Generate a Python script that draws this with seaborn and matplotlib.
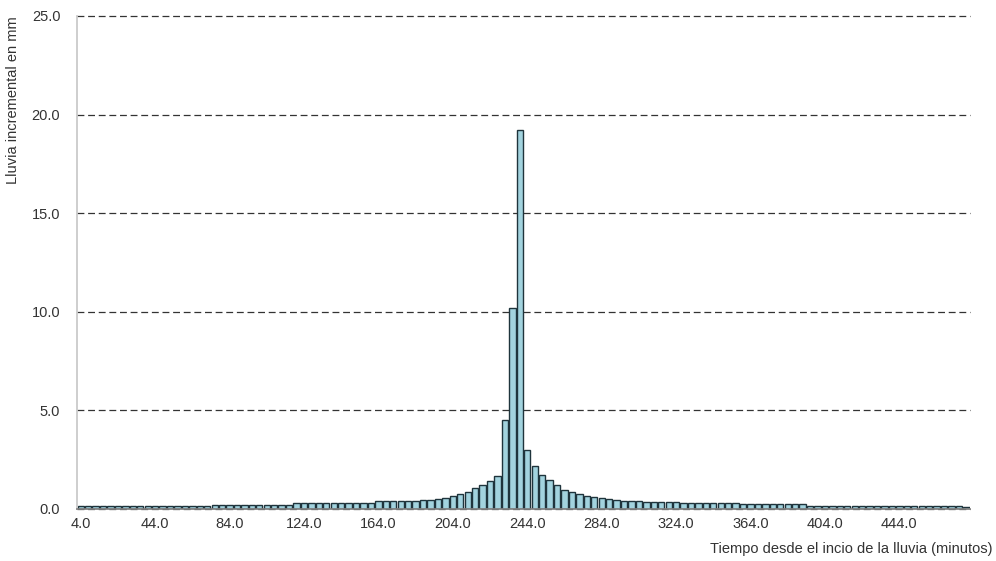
import numpy as np
import pandas as pd
import matplotlib
matplotlib.use("Agg")
import matplotlib.pyplot as plt
import seaborn as sns
from matplotlib.ticker import FormatStrFormatter

# time step of 4 min, from 4 to 480 min (120 bars)
minutos = np.arange(4, 484, 4)

# incremental rain (mm)
lluvia = [
    0.13, 0.13, 0.13, 0.13, 0.13, 0.13, 0.13, 0.13, 0.13, 0.13,
    0.13, 0.13, 0.13, 0.13, 0.13, 0.13, 0.13, 0.13, 0.20, 0.20,
    0.20, 0.20, 0.20, 0.20, 0.20, 0.20, 0.20, 0.20, 0.20, 0.30,
    0.30, 0.30, 0.30, 0.30, 0.30, 0.30, 0.30, 0.30, 0.30, 0.30,
    0.40, 0.40, 0.40, 0.40, 0.40, 0.42, 0.45, 0.48, 0.50, 0.54,
    0.66, 0.76, 0.88, 1.05, 1.22, 1.42, 1.69, 4.50, 10.20, 19.20,
    3.00, 2.18, 1.73, 1.47, 1.22, 0.96, 0.84, 0.75, 0.68, 0.60,
    0.54, 0.50, 0.46, 0.43, 0.41, 0.39, 0.37, 0.36, 0.35, 0.34,
    0.33, 0.30, 0.30, 0.30, 0.30, 0.30, 0.30, 0.30, 0.30, 0.23,
    0.23, 0.23, 0.23, 0.23, 0.23, 0.23, 0.23, 0.23, 0.16, 0.16,
    0.16, 0.16, 0.16, 0.16, 0.16, 0.16, 0.16, 0.16, 0.16, 0.16,
    0.16, 0.16, 0.16, 0.16, 0.16, 0.16, 0.16, 0.16, 0.16, 0.10,
]

etiquetas_x = ["4.0", "44.0", "84.0", "124.0", "164.0", "204.0",
               "244.0", "284.0", "324.0", "364.0", "404.0", "444.0"]
ticks_y = [0, 5, 10, 15, 20, 25]

df = pd.DataFrame({"minuto": minutos, "lluvia": lluvia})

sns.set_theme(style="white")
plt.rcParams["font.family"] = ["Liberation Sans", "DejaVu Sans"]

fig, ax = plt.subplots(figsize=(9.96, 5.61), dpi=100)
fig.subplots_adjust(left=0.0773, right=0.974, bottom=0.0927, top=0.9715)

sns.barplot(data=df, x="minuto", y="lluvia", color="#a2d3de",
            edgecolor="#1f343c", linewidth=1.0, width=0.85,
            saturation=1, errorbar=None, ax=ax)

ax.set_xlim(-0.5, len(minutos) - 0.5)
ax.set_ylim(0, 25)
ax.set_xticks(range(0, len(minutos), 10))
ax.set_xticklabels(etiquetas_x)
ax.set_yticks(ticks_y)
ax.yaxis.set_major_formatter(FormatStrFormatter("%.1f"))

# dashed horizontal grid
ax.set_axisbelow(True)
ax.yaxis.grid(True, color="#333333", linestyle=(0, (5.5, 3)), linewidth=0.9)
for gl in ax.get_ygridlines():
    gl.set_clip_on(False)

for s in ["top", "right"]:
    ax.spines[s].set_visible(False)
ax.spines["left"].set_color("#c8c8c8")
ax.spines["bottom"].set_color("#808080")

ax.tick_params(axis="y", length=4, width=0.8, color="#404040", pad=8,
               labelsize=10.5, labelcolor="#333333")
ax.tick_params(axis="x", length=0, pad=6, labelsize=10.5, labelcolor="#333333")

ax.set_ylabel("Lluvia incremental en mm", fontsize=10.5, color="#333333", loc="top")
ax.yaxis.set_label_coords(-0.064, 1.0)
ax.set_xlabel("Tiempo desde el incio de la lluvia (minutos)", fontsize=10.5,
              color="#333333", loc="right")
ax.xaxis.set_label_coords(1.0246, -0.067)

plt.savefig("out.png", dpi=100)
